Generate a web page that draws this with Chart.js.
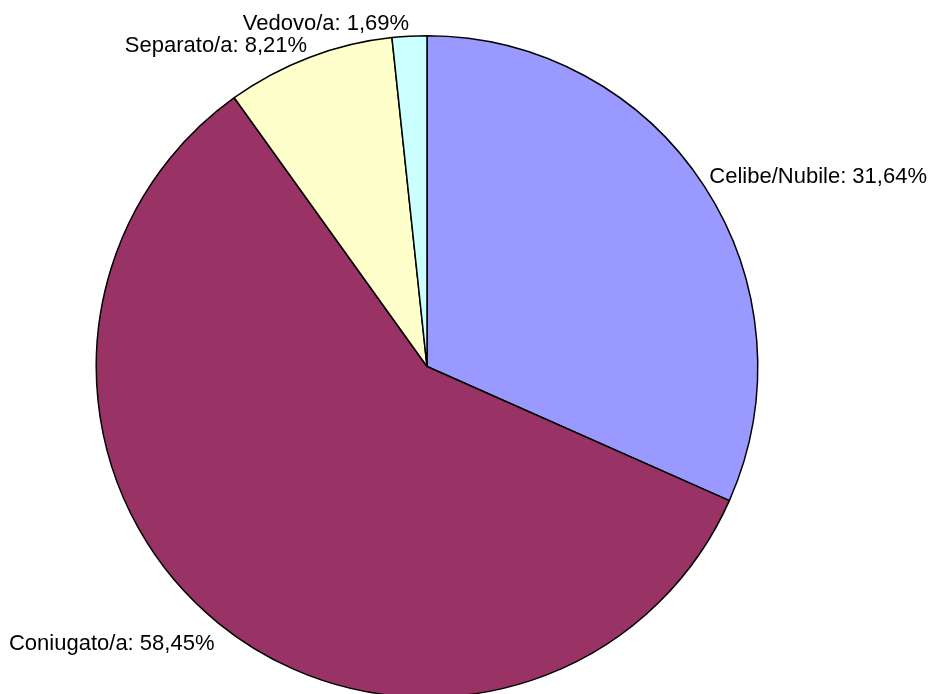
<!DOCTYPE html>
<html>
<head>
<meta charset="utf-8">
<script src="https://cdn.jsdelivr.net/npm/chart.js@4"></script>
<style>
  html, body { margin: 0; padding: 0; background: #fff; overflow: hidden; }
  canvas { display: block; }
</style>
</head>
<body>
<canvas id="pieChart" width="935" height="700"></canvas>
<script>
const labels = ['Celibe/Nubile', 'Coniugato/a', 'Separato/a', 'Vedovo/a'];
const values = [31.64, 58.45, 8.21, 1.69];
const colors = ['#9999FF', '#993366', '#FFFFCC', '#CCFFFF'];

// labels outside each slice: the text box corner nearest the pie sits just off the rim
const outsideLabels = {
  id: 'outsideLabels',
  afterDatasetsDraw(chart) {
    const ctx = chart.ctx;
    const meta = chart.getDatasetMeta(0);
    ctx.save();
    ctx.font = '22px "Liberation Sans", Arial, sans-serif';
    ctx.fillStyle = '#000';
    meta.data.forEach((arc, i) => {
      const p = arc.getProps(['x', 'y', 'startAngle', 'endAngle', 'outerRadius'], true);
      const mid = (p.startAngle + p.endAngle) / 2;
      const r = p.outerRadius + 6;
      const below = Math.sin(mid) > 0;
      const x = p.x + Math.cos(mid) * r;
      const y = p.y + Math.sin(mid) * r + (below ? 5 : 0);
      ctx.textAlign = Math.cos(mid) >= 0 ? 'left' : 'right';
      ctx.textBaseline = below ? 'top' : 'alphabetic';
      const txt = labels[i] + ': ' + values[i].toFixed(2).replace('.', ',') + '%';
      ctx.fillText(txt, x, y);
    });
    ctx.restore();
  }
};

new Chart(document.getElementById('pieChart'), {
  type: 'pie',
  data: {
    labels,
    datasets: [{
      data: values,
      backgroundColor: colors,
      borderColor: '#000',
      borderWidth: 1.5,
    }],
  },
  options: {
    responsive: false,
    animation: false,
    devicePixelRatio: 1,
    layout: { padding: { left: 95, right: 176, top: 35, bottom: 2 } },
    plugins: {
      legend: { display: false },
      tooltip: { enabled: false },
    },
  },
  plugins: [outsideLabels],
});
</script>
</body>
</html>
